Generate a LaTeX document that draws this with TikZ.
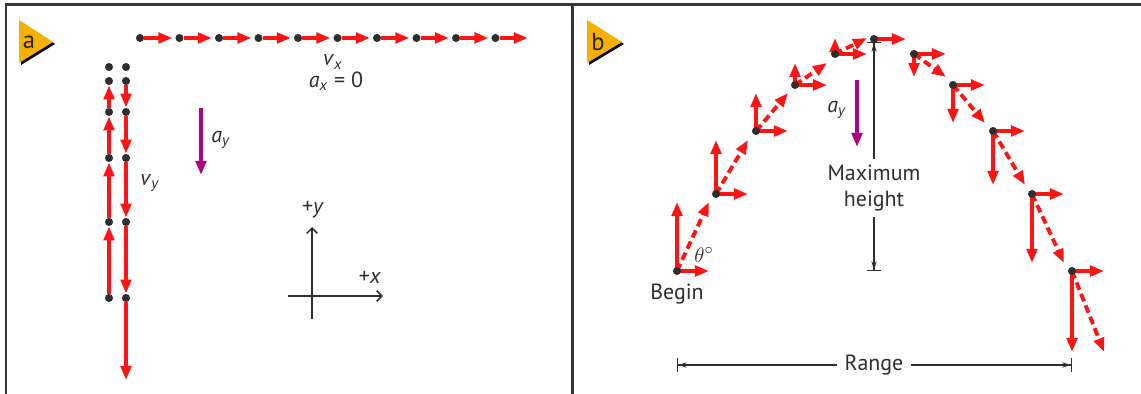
\documentclass[tikz,border=0pt]{standalone}
\usepackage{fontspec}
\setmainfont{PT Sans}
\usepackage{tikz}
\usetikzlibrary{arrows.meta,calc}
\definecolor{velred}{HTML}{FF1414}
\definecolor{accmag}{HTML}{B0047F}
\definecolor{tagorange}{HTML}{F5B000}
\definecolor{framegray}{HTML}{3A342A}
\definecolor{inkgray}{HTML}{2E2E2E}
\newcommand{\vsub}[2]{\textit{#1}\textsubscript{\textit{#2}}}

\begin{document}
\begin{tikzpicture}[x=0.02cm,y=-0.02cm,font=\fontsize{12.5}{15}\selectfont,text=inkgray,
  vel/.style={velred,line width=2.2pt,-{Triangle[length=8pt,width=6pt]}},
  res/.style={vel,dash pattern=on 4.5pt off 2.5pt},
  acc/.style={accmag,line width=2.2pt,-{Triangle[length=8pt,width=6pt]}},
  dot/.style={circle,fill=inkgray,inner sep=0pt,minimum size=4.6pt},
  axis/.style={inkgray,line width=0.9pt,-{Straight Barb[length=3pt,width=6pt]}},
  dim/.style={inkgray,line width=0.6pt,-{Stealth[length=5pt,width=3pt]Bar[width=8pt]}},
  frame/.style={framegray,line width=1.7pt}]
  \useasboundingbox (0,0) rectangle (1141,394);
  \draw[frame] (6,394) -- (6,5) -- (1141,5);
  \draw[frame] (572,5) -- (572,394);

  % panel a
  \fill[black] (21,22) -- (55,44) -- (21,65) -- cycle;
  \fill[tagorange] (19,20) -- (53,42) -- (19,63) -- cycle;
  \node[text=black!85,font=\fontsize{14}{14}\selectfont] (tagA) at (29,42) {a};

  \foreach \i in {0,...,9}{
    \node[dot] (hx\i) at (140+39.5*\i,38) {};
    \draw[vel] (hx\i.east) -- ++(28,0);
  }
  \node (vx) at (333,62) {\vsub{v}{x}};
  \node (ax) at (336,81) {\vsub{a}{x} = 0};

  \foreach \y [count=\k from 0] in {67,81,112,158,222,298}{
    \node[dot] (up\k) at (109,\y) {};
    \node[dot] (dn\k) at (126,\y) {};
  }
  \foreach \a/\b in {5/4,4/3,3/2,2/1} \draw[vel] (up\a) -- (up\b);
  \foreach \a/\b in {1/2,2/3,3/4,4/5} \draw[vel] (dn\a) -- (dn\b);
  \coordinate (dnend) at (126,380);
  \draw[vel] (dn5) -- (dnend);
  \node (vy) at (150,183) {\vsub{v}{y}};

  \coordinate (ayA0) at (201,108);
  \coordinate (ayA1) at (201,175);
  \draw[acc] (ayA0) -- (ayA1);
  \node (ayA) at (221,140) {\vsub{a}{y}};

  \coordinate (xl) at (288,296);
  \coordinate (xr) at (383,296);
  \coordinate (yb) at (312,319);
  \coordinate (yt) at (312,227);
  \draw[axis] (xl) -- (xr);
  \draw[axis] (yb) -- (yt);
  \node (plusy) at (313,210) {+\textit{y}};
  \node (plusx) at (370,277) {+\textit{x}};

  % panel b
  \fill[black] (589,22) -- (624,44) -- (589,65) -- cycle;
  \fill[tagorange] (587,20) -- (622,42) -- (587,63) -- cycle;
  \node[text=black!85,font=\fontsize{14}{14}\selectfont] (tagB) at (598,42) {b};

  \foreach \i/\x/\y/\vy in {0/677/271/-69,1/716/194/-54,2/756/131/-38,3/795/85/-22,4/835/54/-16,
      6/914/54/23,7/953/85/38,8/993/131/54,9/1032/194/69,10/1072/271/81}{
    \coordinate (pt\i) at (\x,\y);
    \draw[res] (pt\i) -- ++(32,\vy);
    \draw[vel] (pt\i) -- ++(0,\vy);
    \draw[vel] (pt\i) -- ++(32,0);
    \node[dot] (pd\i) at (pt\i) {};
  }
  \coordinate (pt5) at (874,39);
  \draw[vel] (pt5) -- ++(32,0);
  \node[dot] (pd5) at (pt5) {};

  \coordinate (ayB0) at (857,80);
  \coordinate (ayB1) at (857,147);
  \draw[acc] (ayB0) -- (ayB1);
  \node (ayB) at (837,110) {\vsub{a}{y}};

  \node[align=center] (maxh) at (874,188) {Maximum\\height};
  \coordinate (mtop) at (874,42);
  \coordinate (mbot) at (874,271);
  \draw[dim] (maxh) -- (mtop);
  \draw[dim] (maxh) -- (mbot);

  \node[font=\fontsize{13}{13}\selectfont] (theta) at (704,255) {$\theta^{\circ}$};
  \node (begin) at (677,294) {Begin};

  \node[inner xsep=4pt] (range) at (874,365) {Range};
  \coordinate (rl) at (677,365);
  \coordinate (rr) at (1072,365);
  \draw[dim] (range) -- (rl);
  \draw[dim] (range) -- (rr);
\end{tikzpicture}
\end{document}
